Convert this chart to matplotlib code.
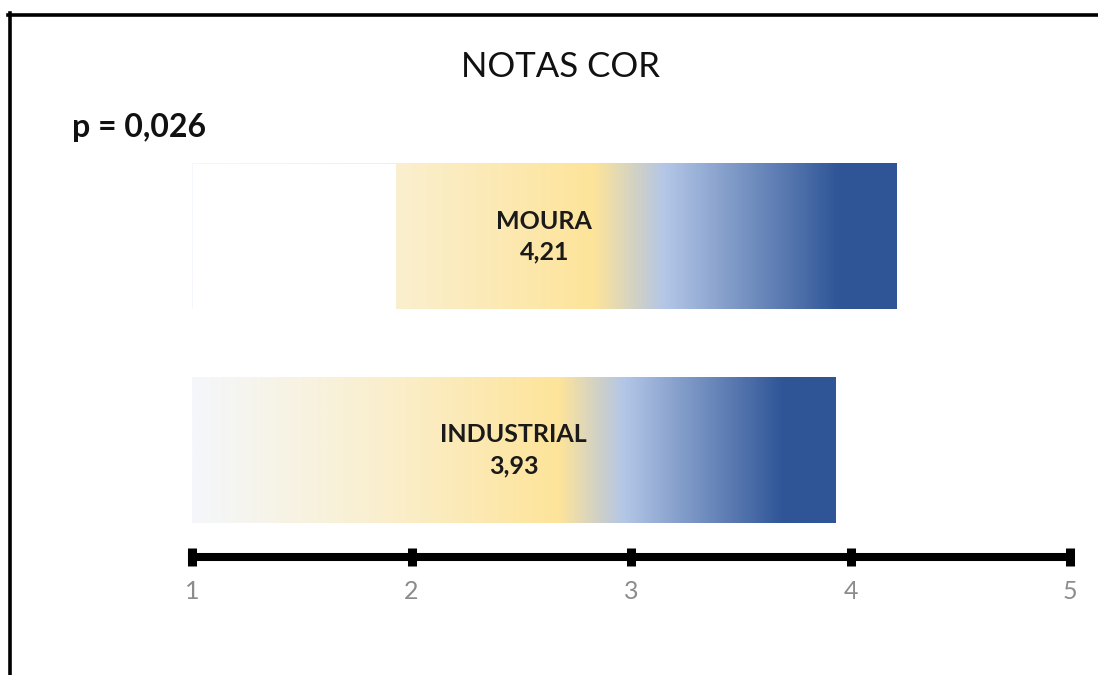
import numpy as np
import matplotlib
matplotlib.use("Agg")
import matplotlib.pyplot as plt
from matplotlib.colors import LinearSegmentedColormap
from matplotlib.patches import Rectangle
from matplotlib.lines import Line2D

# data
groups = ["MOURA", "INDUSTRIAL"]
scores = [4.21, 3.93]
visible_start = [1.93, 1.0]   # MOURA bar is hidden up to this point
x_ticks = [1, 2, 3, 4, 5]
title = "NOTAS COR"
p_text = "p = 0,026"

plt.rcParams['font.family'] = ['Lato', 'DejaVu Sans']

# yellow -> blue gradient used for every bar
stops = [(0.0, "#F4F7FB"), (0.30, "#FAEFCD"), (0.57, "#FEE49A"),
         (0.635, "#CDD0C9"), (0.67, "#B4C7E7"), (0.92, "#2F5597"),
         (1.0, "#2F5597")]
cmap = LinearSegmentedColormap.from_list("cor", stops)
grad = np.linspace(0, 1, 512).reshape(1, -1)

fig = plt.figure(figsize=(10.98, 6.75), dpi=100)
ax = fig.add_axes([192/1098, 1-557/675, (1070-192)/1098, (557-130)/675])

x0 = x_ticks[0]
h = 0.68
ypos = [1, 0]
for name, val, vs, y in zip(groups, scores, visible_start, ypos):
    ax.imshow(grad, extent=[x0, val, y-h/2, y+h/2], aspect='auto',
              cmap=cmap, interpolation='bilinear', zorder=2)
    if vs > x0:
        ax.add_patch(Rectangle((x0 + 0.004, y-h/2), vs - x0 - 0.004, h,
                               facecolor='white', edgecolor='none', zorder=3))
    label = name + "\n" + f"{val:.2f}".replace('.', ',')
    ax.text((x0 + val)/2, y, label, ha='center', va='center',
            fontsize=18, fontweight='bold', color='#1a1a1a',
            linespacing=1.4, zorder=4)

ax.set_xlim(x_ticks[0], x_ticks[-1])
ax.set_ylim(-0.5, 1.5)
ax.set_xticks(x_ticks)
ax.set_xticklabels([str(t) for t in x_ticks])
ax.set_yticks([])
for s in ['top', 'right', 'left']:
    ax.spines[s].set_visible(False)
ax.spines['bottom'].set_linewidth(5.8)
ax.spines['bottom'].set_color('black')
ax.tick_params(axis='x', direction='inout', length=12.5, width=6.5,
               color='black', labelcolor='#8C8C8C', labelsize=18, pad=10)
for t in ax.xaxis.get_major_ticks():
    t.tick1line.set_clip_on(False)
ax.set_facecolor('none')

fig.text(560/1098, 1-67/675, title, ha='center', va='center', fontsize=25,
         color='#111111')
fig.text(72/1098, 1-128/675, p_text, ha='left', va='center', fontsize=23,
         fontweight='bold', color='#111111')

# outer frame (top and left edges visible)
fig.add_artist(Line2D([8/1098, 1], [1-14.5/675, 1-14.5/675], color='black',
                      linewidth=2.6, transform=fig.transFigure))
fig.add_artist(Line2D([9.5/1098, 9.5/1098], [1-13/675, 0], color='black',
                      linewidth=2.6, transform=fig.transFigure))

fig.savefig("out.png", dpi=100)
